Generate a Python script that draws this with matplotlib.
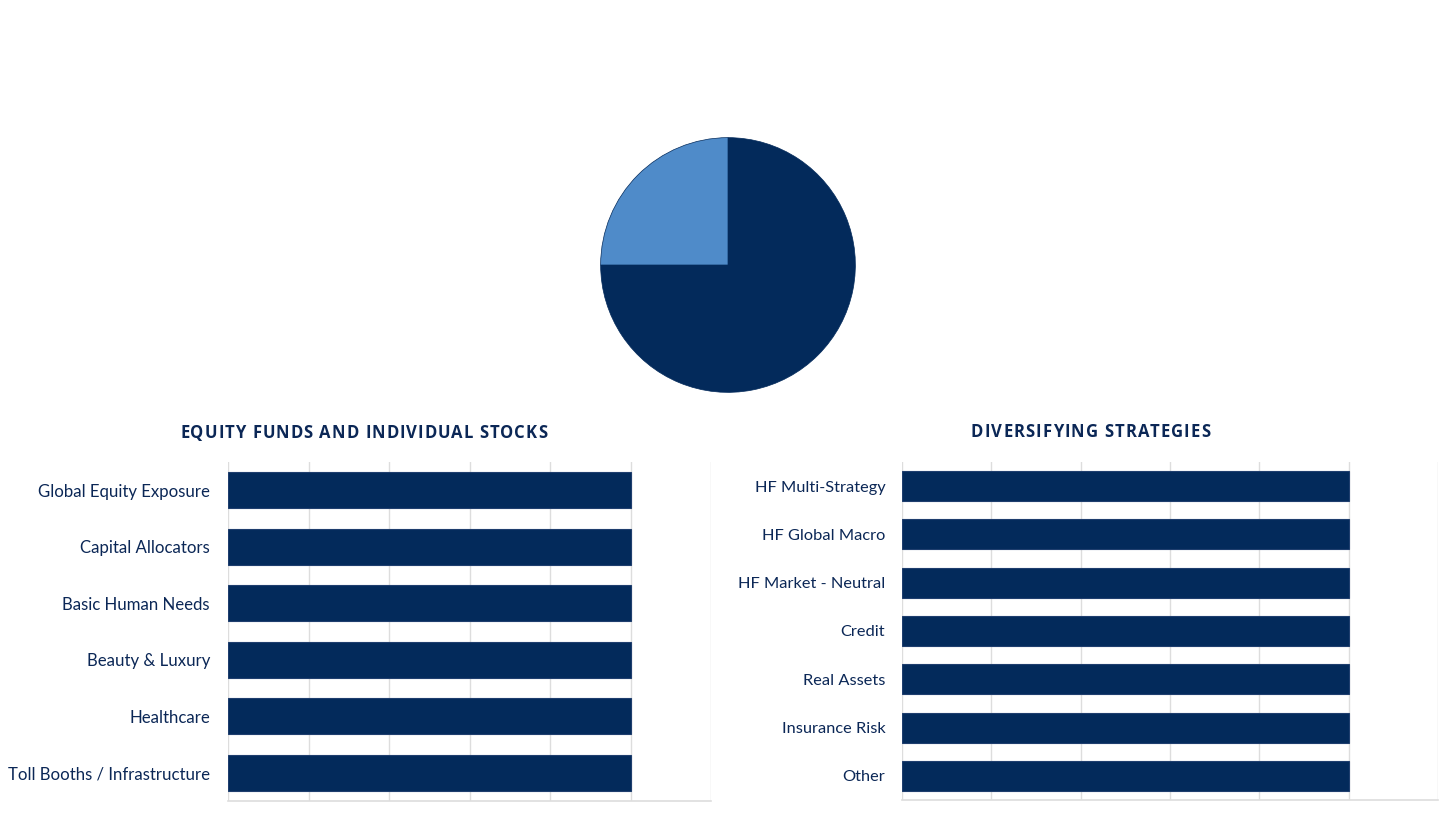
import matplotlib
matplotlib.use("Agg")
import matplotlib.pyplot as plt
from matplotlib.ticker import MultipleLocator

plt.rcParams['font.family'] = ['Lato', 'DejaVu Sans']

# ---- data ----
pie_labels = ["Equity Funds and Individual Stocks", "Diversifying Strategies"]
pie_values = [75, 25]

equity_categories = ["Global Equity Exposure", "Capital Allocators", "Basic Human Needs",
                     "Beauty & Luxury", "Healthcare", "Toll Booths / Infrastructure"]
equity_values = [1.0, 1.0, 1.0, 1.0, 1.0, 1.0]

div_categories = ["HF Multi-Strategy", "HF Global Macro", "HF Market - Neutral", "Credit",
                  "Real Assets", "Insurance Risk", "Other"]
div_values = [1.0, 1.0, 1.0, 1.0, 1.0, 1.0, 1.0]

equity_title = "EQUITY FUNDS AND INDIVIDUAL STOCKS"
div_title = "DIVERSIFYING STRATEGIES"

DARK = "#032A5B"
LIGHT = "#4F8BC9"
TEXT = "#0B2756"
GRID = "#DDDDDD"

W, H = 1456, 819
fig = plt.figure(figsize=(W / 100, H / 100), dpi=100)
renderer = fig.canvas.get_renderer()

def ax_px(x0, y0, x1, y1):
    return fig.add_axes([x0 / W, 1 - y1 / H, (x1 - x0) / W, (y1 - y0) / H])

# ---- pie ----
pax = ax_px(600, 137, 856, 393)
pax.pie(pie_values, colors=[DARK, LIGHT], startangle=90, counterclock=False,
        wedgeprops=dict(linewidth=0.5, edgecolor=DARK))
pax.set_xlim(-1.005, 1.005)
pax.set_ylim(-1.005, 1.005)
pax.set_aspect('equal')
pax.axis('off')

def bars(ax, cats, vals, height, fs, pad):
    n = len(cats)
    ys = list(range(n))
    ax.barh(ys, vals, height=height, color=DARK, edgecolor="#1F3E6E", linewidth=0.8, zorder=3)
    ax.set_ylim(n - 0.5, -0.5)
    ax.set_xlim(0, 1.2)
    ax.xaxis.set_major_locator(MultipleLocator(0.2))
    ax.grid(axis='x', color=GRID, linewidth=1, zorder=0)
    ax.set_yticks(ys)
    ax.set_yticklabels(cats, fontsize=fs, color=TEXT)
    ax.tick_params(axis='y', length=0, pad=pad)
    ax.tick_params(axis='x', length=0, labelbottom=False)
    for s in ['top', 'right', 'left']:
        ax.spines[s].set_visible(False)
    ax.spines['bottom'].set_color(GRID)
    ax.spines['bottom'].set_linewidth(1.2)

ax1 = ax_px(228, 462, 711, 801)
bars(ax1, equity_categories, equity_values, 0.64, 12.1, 13)
ax2 = ax_px(902, 462, 1438, 800)
bars(ax2, div_categories, div_values, 0.62, 11.8, 12)

TITLE_KW = dict(fontsize=12, fontweight='bold', color=TEXT, family=['Open Sans', 'DejaVu Sans'])

def text_width(s):
    t = fig.text(0, 0, s, **TITLE_KW)
    w = t.get_window_extent(renderer).width
    t.remove()
    return w

def spaced_title(xc_px, yc_px, s, target_px):
    natural = text_width(s)
    n = len(s)
    spacing = (target_px - natural) / (n - 1)
    x0 = xc_px - target_px / 2
    for i, ch in enumerate(s):
        if ch == ' ':
            continue
        left = text_width(s[:i + 1]) - text_width(ch) + spacing * i
        fig.text((x0 + left) / W, 1 - yc_px / H, ch, ha='left', va='center', **TITLE_KW)

spaced_title(363.5, 433, equity_title, 367)
spaced_title(1090.5, 432, div_title, 239)

fig.savefig("out.png", dpi=100, facecolor='white')
